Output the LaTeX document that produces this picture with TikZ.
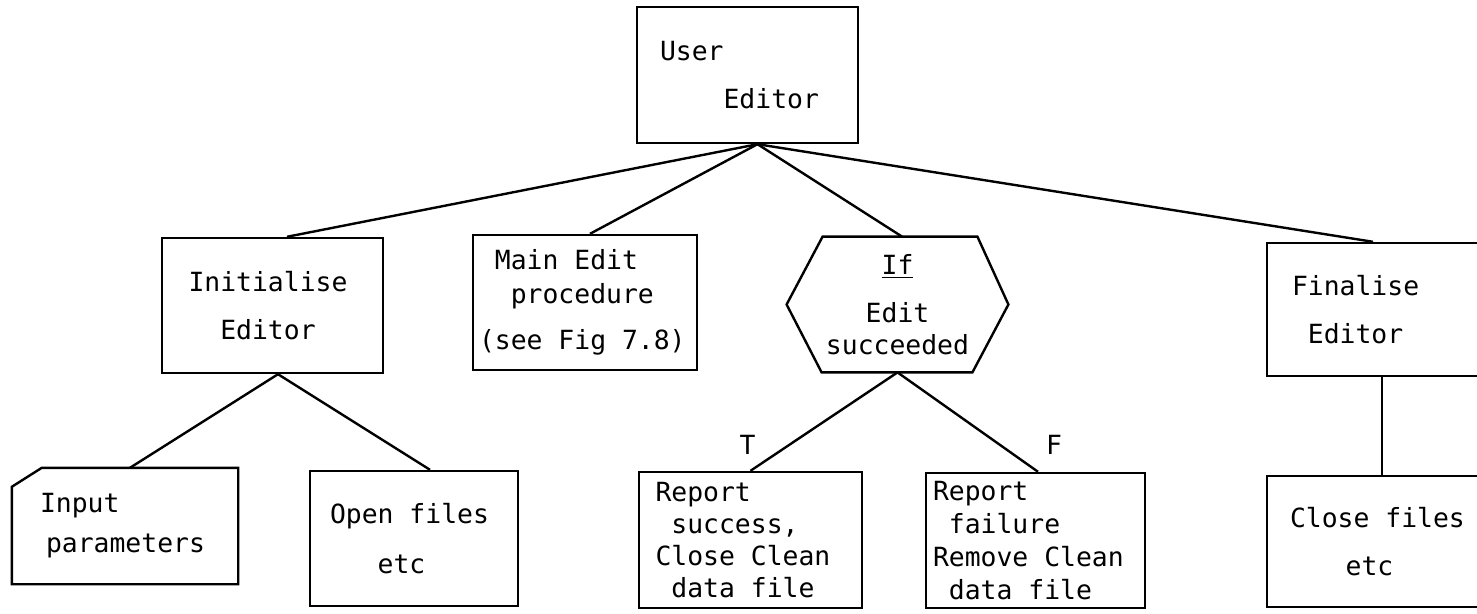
\documentclass[tikz,border=0pt]{standalone}
\usepackage{fontspec}
\setmainfont{DejaVu Sans Mono}[WordSpace={1,0,0}]
\usetikzlibrary{positioning}
\newcommand\pad[1]{\hspace*{#1\fontcharwd\font`x}}
\newcommand\gap{\pad{1}}

\begin{document}
\begin{tikzpicture}[
    x=0.5pt, y=-0.5pt,
    leading/.style={font=\fontsize{13.2}{#1}\selectfont},
    box/.style={draw, line width=1.2pt, align=left, inner ysep=0pt, leading=24pt},
    plain/.style={inner sep=0pt, align=center, leading=24pt},
    link/.style={line width=1.2pt}
  ]
  \useasboundingbox (0,0) rectangle (1477,614);

  % Top
  \node[box, minimum height=68pt, text width=87.5pt, inner xsep=11.5pt] (user) at (747.5,75) {User\\\pad{4}Editor};

  % Second level
  \node[box, minimum height=67.5pt, text width=84pt, inner xsep=13.25pt] (init) at (272.5,305.5) {Initialise\\\pad{2}Editor};
  \node[box, minimum height=67.5pt, text width=106pt, inner xsep=3pt, leading=17pt] (main) at (585,302.5) {\pad{1}Main\gap Edit\\\pad{2}procedure\\[6pt](see\gap Fig\gap 7.8)};
  \node[plain, minimum width=110.5pt, minimum height=67.5pt] (cond) at (897.5,304.5) {\underline{If}\\Edit\\[-8pt]succeeded};
  \draw[link] (cond.west) -- ([xshift=18pt]cond.north west) -- ([xshift=-15.5pt]cond.north east) -- (cond.east) -- ([xshift=-18pt]cond.south east) -- ([xshift=17.5pt]cond.south west) -- cycle;
  \node[box, minimum height=66.5pt, text width=90pt, inner xsep=12.5pt] (fin) at (1382,309.5) {Finalise\\\pad{1}Editor};

  % Bottom level
  \node[box, draw=none, minimum height=57pt, text width=85pt, inner xsep=13.5pt, leading=20pt] (input) at (125,526) {Input\\\hspace*{3pt}parameters};
  \draw[link] ([yshift=-9.5pt]input.north west) -- ([xshift=15pt]input.north west) -- (input.north east) -- (input.south east) -- (input.south west) -- cycle;
  \node[box, minimum height=67.5pt, text width=84pt, inner xsep=10pt, leading=25pt] (open) at (414,538.5) {Open\gap files\\\pad{3}etc};
  \node[box, minimum height=68pt, text width=95pt, inner xsep=8.25pt, leading=16pt] (succ) at (750.5,540) {Report\\\pad{1}success,\\Close\gap Clean\\\pad{1}data\gap file};
  \node[box, minimum height=67.5pt, text width=102.5pt, inner xsep=3.5pt, leading=16.5pt] (fail) at (1035.5,540.5) {Report\\\pad{1}failure\\Remove\gap Clean\\\pad{1}data\gap file};
  \node[box, minimum height=65.5pt, text width=92pt, inner xsep=11.5pt] (close) at (1382,541.5) {Close\gap files\\\pad{3.5}etc};

  % Connectors
  \draw[link] ([xshift=5pt]user.south) -- ([xshift=7.25pt]init.north);
  \draw[link] ([xshift=5pt]user.south) -- ([xshift=2.5pt]main.north);
  \draw[link] ([xshift=5pt]user.south) -- ([xshift=2.25pt]cond.north);
  \draw[link] ([xshift=5pt]user.south) -- ([xshift=-4.5pt]fin.north);
  \draw[link] ([xshift=2.75pt]init.south) -- ([xshift=2.5pt]input.north);
  \draw[link] ([xshift=2.75pt]init.south) -- ([xshift=8pt]open.north);
  \draw[link] (cond.south) -- (succ.north) node[at end, above=4pt, xshift=-1.5pt, leading=16pt] (tlab) {T};
  \draw[link] (cond.south) -- ([xshift=1.25pt]fail.north) node[at end, above=4.5pt, xshift=8pt, leading=16pt] (flab) {F};
  \draw[link] (fin.south) -- (close.north);
\end{tikzpicture}
\end{document}
